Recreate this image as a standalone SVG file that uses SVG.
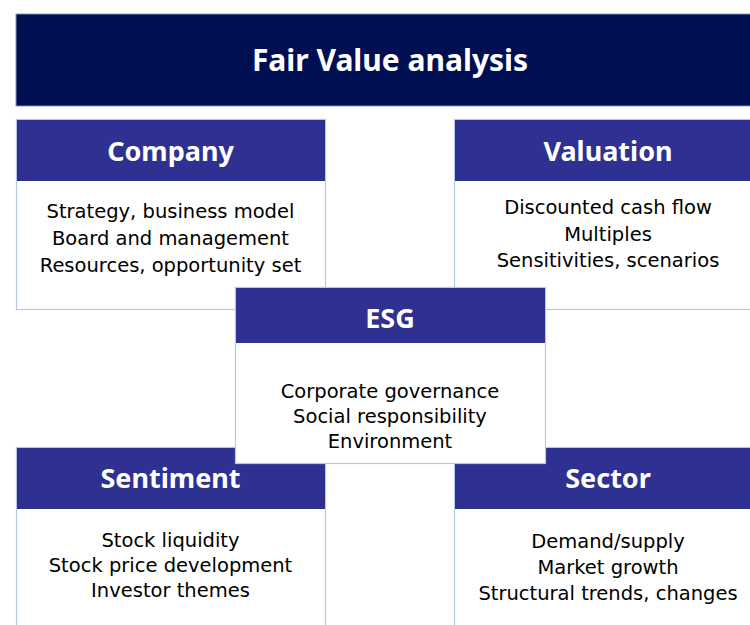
<svg xmlns="http://www.w3.org/2000/svg" width="750" height="625" viewBox="0 0 750 625">
<style>
.box{fill:#ffffff;stroke:#b4c7e7;stroke-width:1.2}
.hdr{fill:#2e3192}
.ttl{fill:#000e52;stroke:#8a93b5;stroke-width:1}
.h{font-family:"Noto Sans","DejaVu Sans",sans-serif;font-weight:bold;font-size:27px;fill:#ffffff;text-anchor:middle}
.t{font-family:"DejaVu Sans","Noto Sans",sans-serif;font-size:19.5px;fill:#000000;text-anchor:middle}
</style>
<rect width="750" height="625" fill="#ffffff"/>
<g id="title">
<rect class="ttl" x="16" y="14" width="760" height="92"/>
<text class="h" x="390" y="71" style="font-size:30px">Fair Value analysis</text>
</g>
<g id="company">
<rect class="box" x="16.5" y="119.5" width="309" height="190"/>
<rect class="hdr" x="17" y="120" width="308" height="61"/>
<text class="h" x="170.5" y="161">Company</text>
<text class="t" x="170.5" y="218">Strategy, business model</text>
<text class="t" x="170.5" y="245">Board and management</text>
<text class="t" x="170.5" y="272">Resources, opportunity set</text>
</g>
<g id="valuation">
<rect class="box" x="454.5" y="119.5" width="309" height="190"/>
<rect class="hdr" x="455" y="120" width="308" height="61"/>
<text class="h" x="608" y="161">Valuation</text>
<text class="t" x="608" y="214">Discounted cash flow</text>
<text class="t" x="608" y="241">Multiples</text>
<text class="t" x="608" y="267">Sensitivities, scenarios</text>
</g>
<g id="sentiment">
<rect class="box" x="16.5" y="447.5" width="309" height="200"/>
<rect class="hdr" x="17" y="448" width="308" height="61"/>
<text class="h" x="170.5" y="488">Sentiment</text>
<text class="t" x="170.5" y="547">Stock liquidity</text>
<text class="t" x="170.5" y="572">Stock price development</text>
<text class="t" x="170.5" y="597">Investor themes</text>
</g>
<g id="sector">
<rect class="box" x="454.5" y="447.5" width="309" height="200"/>
<rect class="hdr" x="455" y="448" width="308" height="61"/>
<text class="h" x="608" y="488">Sector</text>
<text class="t" x="608" y="548">Demand/supply</text>
<text class="t" x="608" y="574">Market growth</text>
<text class="t" x="608" y="600">Structural trends, changes</text>
</g>
<g id="esg">
<rect class="box" x="235.5" y="287.5" width="310" height="176"/>
<rect class="hdr" x="236" y="288" width="309" height="55"/>
<text class="h" x="390" y="328">ESG</text>
<text class="t" x="390" y="398">Corporate governance</text>
<text class="t" x="390" y="423">Social responsibility</text>
<text class="t" x="390" y="448">Environment</text>
</g>
<g id="connectors"></g>
</svg>
